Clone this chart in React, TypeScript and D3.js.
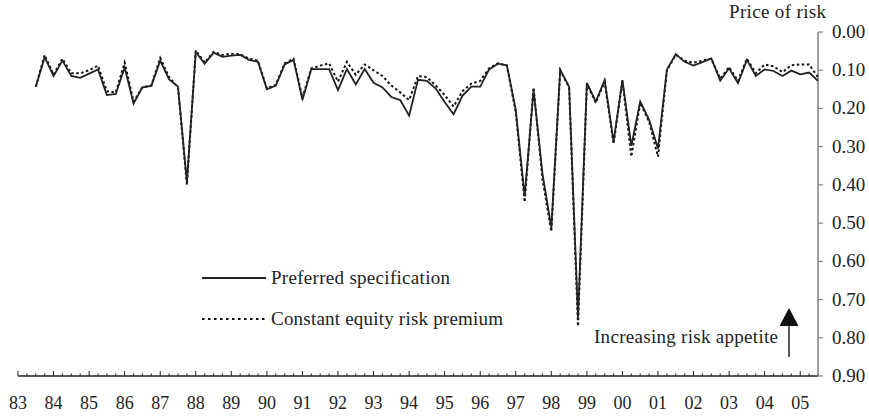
import React from "react";
import * as d3 from "d3";

const yearLabels = ["83","84","85","86","87","88","89","90","91","92","93","94","95","96","97","98","99","00","01","02","03","04","05"];
const yTicks = [0, 0.1, 0.2, 0.3, 0.4, 0.5, 0.6, 0.7, 0.8, 0.9];
// quarterly observations from 1983 Q3 (quarter index 2) to 2005 Q3 (index 90)
const firstQuarter = 2;
const preferred = [
  0.143, 0.066, 0.115, 0.075, 0.115, 0.120, 0.109, 0.098, 0.165, 0.162,
  0.093, 0.187, 0.145, 0.141, 0.075, 0.124, 0.143, 0.392, 0.052, 0.083,
  0.054, 0.065, 0.062, 0.060, 0.073, 0.078, 0.150, 0.140, 0.085, 0.073,
  0.177, 0.097, 0.097, 0.097, 0.152, 0.097, 0.137, 0.097, 0.133, 0.145,
  0.170, 0.178, 0.219, 0.125, 0.128, 0.148, 0.183, 0.215, 0.167, 0.143,
  0.143, 0.098, 0.083, 0.087, 0.204, 0.430, 0.151, 0.370, 0.512, 0.099,
  0.143, 0.747, 0.133, 0.182, 0.126, 0.287, 0.126, 0.298, 0.182, 0.230,
  0.305, 0.099, 0.058, 0.078, 0.088, 0.079, 0.069, 0.127, 0.095, 0.134,
  0.073, 0.115, 0.098, 0.102, 0.115, 0.101, 0.111, 0.106, 0.128,
];
const constantErp = [
  0.143, 0.060, 0.112, 0.070, 0.108, 0.108, 0.100, 0.088, 0.155, 0.158,
  0.080, 0.182, 0.145, 0.140, 0.068, 0.118, 0.145, 0.400, 0.048, 0.080,
  0.052, 0.060, 0.057, 0.058, 0.070, 0.075, 0.148, 0.138, 0.082, 0.070,
  0.172, 0.095, 0.088, 0.082, 0.130, 0.078, 0.112, 0.085, 0.100, 0.115,
  0.140, 0.158, 0.178, 0.115, 0.118, 0.140, 0.165, 0.195, 0.155, 0.135,
  0.128, 0.095, 0.082, 0.088, 0.210, 0.445, 0.145, 0.385, 0.522, 0.100,
  0.145, 0.770, 0.135, 0.185, 0.130, 0.293, 0.128, 0.326, 0.185, 0.235,
  0.326, 0.100, 0.060, 0.075, 0.080, 0.075, 0.070, 0.122, 0.092, 0.128,
  0.070, 0.108, 0.085, 0.090, 0.105, 0.087, 0.085, 0.085, 0.118,
];

const W = 869;
const H = 416;
const FONT = "Liberation Serif";

export default function App() {
  const x = d3.scaleLinear().domain([0, 90]).range([18, 818]);
  const y = d3.scaleLinear().domain([0, 0.9]).range([32, 376]);
  const line = d3
    .line<number>()
    .x((_, i) => x(firstQuarter + i))
    .y((d) => y(d));

  const quarters = d3.range(0, 91);
  const axisY = y(0.9);
  const axisX = x(90);
  const txt = { fontFamily: FONT, fontSize: 19, fill: "#222" } as const;
  const xtxt = { fontFamily: FONT, fontSize: 18, fill: "#222" } as const;

  return (
    <svg
      width={W}
      height={H}
      style={{ position: "absolute", left: 0, top: 0, background: "#fff", fontFamily: FONT }}
    >
      <rect width={W} height={H} fill="#fff" />
      {/* x axis */}
      <line x1={x(0)} x2={axisX} y1={axisY} y2={axisY} stroke="#222" strokeWidth={1.3} />
      {quarters.map((q) => (
        <line
          key={q}
          x1={x(q)}
          x2={x(q)}
          y1={axisY}
          y2={axisY - (q % 4 === 0 ? 5 : 2.5)}
          stroke="#222"
          strokeWidth={1}
        />
      ))}
      {yearLabels.map((lab, i) => (
        <text key={lab} x={x(i * 4)} y={409} textAnchor="middle" style={xtxt}>
          {lab}
        </text>
      ))}
      {/* y axis on right */}
      <line x1={axisX} x2={axisX} y1={y(0)} y2={axisY} stroke="#808080" strokeWidth={1.5} />
      {yTicks.map((t) => (
        <g key={t}>
          <line x1={axisX} x2={axisX + 5} y1={y(t)} y2={y(t)} stroke="#808080" strokeWidth={1.2} />
          <text x={832} y={y(t) + 6} style={txt}>
            {t.toFixed(2)}
          </text>
        </g>
      ))}
      <text x={729} y={18} textLength={97} lengthAdjust="spacing" style={txt}>
        Price of risk
      </text>

      {/* series */}
      <path d={line(constantErp) || ""} fill="none" stroke="#111" strokeWidth={2} strokeDasharray="2.5,2.5" />
      <path d={line(preferred) || ""} fill="none" stroke="#222" strokeWidth={1.8} strokeLinejoin="miter" />

      {/* legend */}
      <line x1={202} x2={266} y1={278} y2={278} stroke="#222" strokeWidth={1.8} />
      <text x={271} y={284} textLength={179} lengthAdjust="spacing" style={txt}>Preferred specification</text>
      <line x1={202} x2={266} y1={319} y2={319} stroke="#111" strokeWidth={2} strokeDasharray="2.5,3.5" />
      <text x={271} y={325} textLength={232} lengthAdjust="spacing" style={txt}>Constant equity risk premium</text>

      {/* annotation */}
      <text x={594} y={343} textLength={184} lengthAdjust="spacing" style={txt}>Increasing risk appetite</text>
      <line x1={789} x2={789} y1={357} y2={324} stroke="#222" strokeWidth={1.5} />
      <path d="M789,308 L779.5,326 L798.5,326 Z" fill="#111" />
    </svg>
  );
}
